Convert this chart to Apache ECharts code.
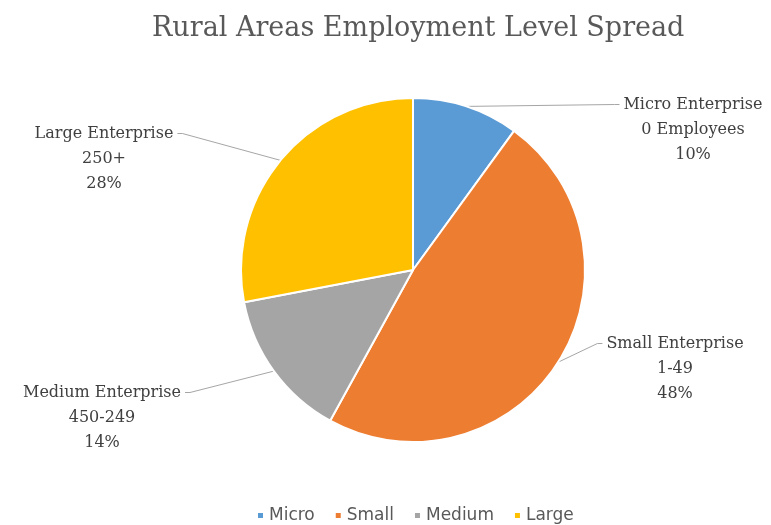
<!DOCTYPE html>
<html>
<head>
<meta charset="utf-8">
<script src="https://cdn.jsdelivr.net/npm/echarts@6/dist/echarts.min.js"></script>
<style>
  html, body { margin: 0; padding: 0; background: #ffffff; }
  #chart { width: 771px; height: 525px; }
</style>
</head>
<body>
<div id="chart"></div>
<script>
// Employment spread by enterprise size (share of rural employment, %)
const categories = ['Micro', 'Small', 'Medium', 'Large'];
const labelNames = ['Micro Enterprise', 'Small Enterprise', 'Medium Enterprise', 'Large Enterprise'];
const sizeRanges = ['0 Employees', '1-49', '450-249', '250+'];
const shares = [10, 48, 14, 28];
const colors = ['#5B9BD5', '#ED7D31', '#A5A5A5', '#FFC000'];

// Where each label block sits (centre x, top y of the block incl. top padding)
const labelSpots = [
  { x: 693, y: 42 },
  { x: 675, y: 281 },
  { x: 102, y: 330 },
  { x: 104, y: 71 }
];

const chart = echarts.init(document.getElementById('chart'), null, { renderer: 'canvas' });

const pieData = categories.map((c, i) => ({
  name: c,
  value: shares[i],
  itemStyle: { color: colors[i] }
}));

chart.setOption({
  backgroundColor: '#ffffff',
  animation: false,
  title: {
    text: 'Rural Areas Employment Level Spread',
    left: 147,
    top: 10,
    textStyle: {
      fontFamily: 'DejaVu Serif',
      fontSize: 27,
      fontWeight: 'normal',
      color: '#595959'
    }
  },
  legend: {
    data: categories,
    top: 502,
    left: 251,
    icon: 'rect',
    itemWidth: 7,
    itemHeight: 7,
    itemGap: 19,
    textStyle: {
      fontFamily: 'DejaVu Sans',
      fontSize: 17,
      color: '#595959'
    }
  },
  series: [{
    type: 'pie',
    center: [413, 270],
    radius: 172,
    startAngle: 90,
    clockwise: true,
    avoidLabelOverlap: false,
    itemStyle: { borderColor: '#ffffff', borderWidth: 2 },
    label: {
      show: true,
      position: 'outside',
      formatter: p => labelNames[p.dataIndex] + '\n' + sizeRanges[p.dataIndex] + '\n' + p.value + '%',
      fontFamily: 'DejaVu Serif',
      fontSize: 16,
      lineHeight: 25,
      color: '#404040',
      align: 'center',
      backgroundColor: 'rgba(255,255,255,0)',
      padding: [50, 4, 0, 4]
    },
    labelLine: {
      show: true,
      length: 10,
      length2: 5,
      smooth: false,
      lineStyle: { color: '#A6A6A6', width: 1 }
    },
    labelLayout: params => ({
      x: labelSpots[params.dataIndex].x,
      y: labelSpots[params.dataIndex].y,
      align: 'center',
      verticalAlign: 'top'
    }),
    emphasis: { disabled: true },
    data: pieData
  }]
});
</script>
</body>
</html>
